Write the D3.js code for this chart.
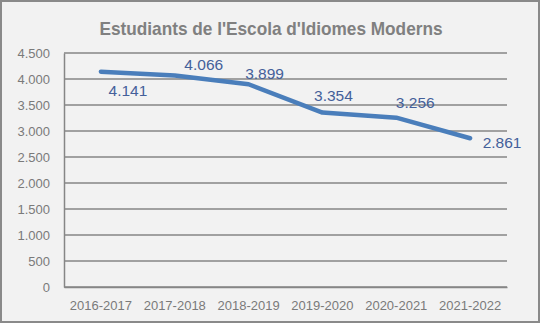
<!DOCTYPE html>
<html>
<head>
<meta charset="utf-8">
<script src="https://cdn.jsdelivr.net/npm/d3@7"></script>
<style>
  html, body { margin: 0; padding: 0; background: #f2f2f2; }
  svg { display: block; }
</style>
</head>
<body>
<script>
// Student enrolment per academic year
const years = ["2016-2017", "2017-2018", "2018-2019", "2019-2020", "2020-2021", "2021-2022"];
const students = [4141, 4066, 3899, 3354, 3256, 2861];
const yTicks = [0, 500, 1000, 1500, 2000, 2500, 3000, 3500, 4000, 4500];
const title = "Estudiants de l'Escola d'Idiomes Moderns";

// Hand-placed label offsets (dx, dy) relative to each point
const labelOffsets = [[27, 19], [29, -11], [16, -11], [11, -17], [19, -15], [32, 4]];

const W = 540, H = 323;
const margin = { left: 64, right: 33, top: 53, bottom: 36 };

const svg = d3.select("body").append("svg")
  .attr("width", W).attr("height", H);

svg.append("rect")
  .attr("x", 1).attr("y", 1).attr("width", W - 2).attr("height", H - 2)
  .attr("fill", "#f2f2f2").attr("stroke", "#8a8a8a").attr("stroke-width", 2);

const x = d3.scaleBand().domain(years).range([margin.left, W - margin.right]);
const y = d3.scaleLinear().domain([0, 4500]).range([H - margin.bottom, margin.top]);

const fmt = v => d3.format(",")(v).replace(/,/g, ".");

// Gridlines
svg.append("g")
  .selectAll("line").data(yTicks).join("line")
  .attr("x1", margin.left).attr("x2", W - margin.right)
  .attr("y1", d => y(d)).attr("y2", d => y(d))
  .attr("stroke", "#868686").attr("stroke-width", 1.5);

// Y axis
const yAxis = svg.append("g")
  .attr("transform", `translate(${margin.left},0)`)
  .call(d3.axisLeft(y).tickValues(yTicks).tickFormat(fmt).tickSize(0).tickPadding(14));
yAxis.select(".domain").attr("stroke", "#868686").attr("stroke-width", 1.5);
yAxis.selectAll("text")
  .attr("font-family", "Liberation Sans, Arial, sans-serif")
  .attr("font-size", 13).attr("fill", "#7a7a7a");

// X axis
const xAxis = svg.append("g")
  .attr("transform", `translate(0,${H - margin.bottom})`)
  .call(d3.axisBottom(x).tickSize(0).tickPadding(14));
xAxis.select(".domain").attr("stroke", "#868686").attr("stroke-width", 1.5);
xAxis.selectAll("text")
  .attr("font-family", "Liberation Sans, Arial, sans-serif")
  .attr("font-size", 13).attr("fill", "#7a7a7a");

// Series line
const pts = years.map((yr, i) => ({ yr, v: students[i] }));
const line = d3.line()
  .x(d => x(d.yr) + x.bandwidth() / 2)
  .y(d => y(d.v));

svg.append("path")
  .datum(pts)
  .attr("d", line)
  .attr("fill", "none")
  .attr("stroke", "#4a7ebb")
  .attr("stroke-width", 4.5)
  .attr("stroke-linecap", "round")
  .attr("stroke-linejoin", "round");

// Data labels
svg.append("g")
  .selectAll("text").data(pts).join("text")
  .attr("x", (d, i) => x(d.yr) + x.bandwidth() / 2 + labelOffsets[i][0])
  .attr("y", (d, i) => y(d.v) + labelOffsets[i][1])
  .attr("dy", "0.36em")
  .attr("text-anchor", "middle")
  .attr("font-family", "Liberation Sans, Arial, sans-serif")
  .attr("font-size", 15.5)
  .attr("fill", "#44609a")
  .text(d => fmt(d.v));

// Title
svg.append("text")
  .attr("x", 271).attr("y", 35)
  .attr("text-anchor", "middle")
  .attr("font-family", "Liberation Sans, Arial, sans-serif")
  .attr("font-weight", "bold")
  .attr("font-size", 18.5)
  .attr("textLength", 343)
  .attr("lengthAdjust", "spacingAndGlyphs")
  .attr("fill", "#808080")
  .text(title);
</script>
</body>
</html>
